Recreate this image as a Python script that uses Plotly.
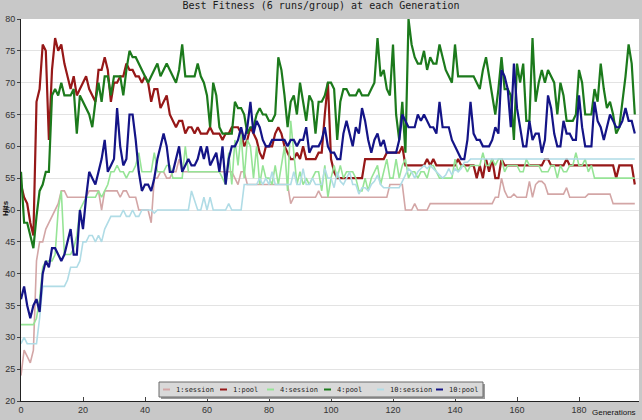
import plotly.graph_objects as go

# ---------------- data ----------------
series_names = ["1:session", "1:pool", "4:session", "4:pool", "10:session", "10:pool"]

session1 = [
    24, 28, 27, 26, 28, 42, 45, 45, 47, 48,
    49, 50, 51, 53, 53, 52, 52, 52, 52, 52,
    52, 52, 53, 53, 53, 53, 50, 53, 53, 53,
    53, 53, 52, 53, 53, 52, 52, 52, 50, 50,
    50, 50, 48, 55, 55, 56, 56, 55, 55, 56,
    56, 58, 56, 56, 56, 56, 56, 56, 56, 56,
    56, 56, 56, 56, 56, 56, 56, 56, 56, 55,
    54, 56, 56, 54, 54, 54, 54, 54, 54, 54,
    54, 54, 54, 54, 54, 54, 54, 51, 52, 52,
    52, 52, 52, 52, 52, 52, 53, 52, 52, 52,
    52, 52, 52, 52, 52, 52, 52, 52, 52, 52,
    52, 52, 52, 52, 52, 52, 52, 52, 52, 54,
    54, 54, 54, 54, 50, 50, 50, 51, 50, 50,
    50, 50, 51, 51, 51, 51, 51, 51, 51, 51,
    51, 51, 51, 51, 51, 51, 51, 51, 51, 51,
    51, 51, 51, 52, 52, 55, 53, 52, 52, 52.5,
    52, 52, 52, 52, 54.5, 52, 54, 54.5, 54.5, 54,
    52.5, 52.5, 52.5, 52.5, 52.5, 52.5, 53.5, 52, 52, 52,
    52, 52, 52, 52.5, 52.5, 52.5, 52.5, 52.5, 52.5, 52.5,
    52.5, 51, 51, 51, 51, 51, 51, 51, 51,
]

pool1 = [
    54, 52, 51, 48, 46, 67, 69, 76, 75, 61,
    72, 77, 75, 76, 73, 71, 69, 71, 68, 69,
    70, 71, 69, 68, 67, 72, 72, 74, 72, 67,
    70, 70, 71, 71, 73, 72, 72, 71, 71, 70,
    71, 70, 67, 69, 69, 66, 67, 68, 65, 64,
    63, 64, 64, 62, 63, 63, 62, 63, 62, 62,
    62, 63, 62, 62, 62, 61, 62, 62, 63, 63,
    63, 62, 60, 61, 63, 62, 61, 59, 58, 60,
    60, 60, 62, 63, 62, 60, 59, 58, 58, 59,
    58, 60, 58, 58, 58, 58, 59, 59, 65, 70,
    58, 56, 55, 55, 55, 55, 55, 55, 55, 55,
    55, 58, 58, 58, 58, 58, 58, 58, 59, 59,
    59, 59, 59, 60, 57, 57, 57, 57, 57, 57,
    57, 58, 57, 58, 57, 57, 57, 57, 57, 57,
    57, 58, 57, 57, 57, 57, 57, 55, 57, 55,
    58, 56, 58, 55, 55, 58, 57, 57, 57, 57,
    57, 57, 57, 57, 57, 57, 57, 57, 57, 58,
    58, 57, 57, 57, 57, 57, 58, 57, 57, 57,
    57, 57, 57, 57, 57, 57, 57, 57, 57, 57,
    57, 57, 55, 57, 57, 57, 57, 57, 54,
]

session4 = [
    32, 32, 32, 32, 32, 33, 36, 41, 42, 42,
    42, 43, 50, 53, 43, 43, 43, 44, 46, 50,
    51, 52, 52, 52, 52, 53, 52, 53, 54, 56,
    56, 57, 56, 56, 55, 56, 56, 57, 59, 56,
    56, 56, 56, 59, 56, 56, 56, 57, 57, 55,
    55, 55, 55, 60, 56, 56, 56, 56, 56, 56,
    56, 56, 56, 56, 56, 55, 54, 59, 54, 61,
    57, 62, 55, 61, 60, 55, 60, 54, 57, 55,
    55, 54, 57, 54, 57, 60, 53, 64, 59, 54,
    56, 54, 55, 54, 55, 56, 56, 53, 57, 52,
    55, 57, 55, 57, 55, 56, 56, 56, 55, 53,
    53, 55, 53, 55, 56, 57, 54, 56, 58, 55,
    55, 58, 55, 57, 58, 55, 56, 56, 55, 56,
    56, 55, 57, 57, 56, 55, 55, 55, 55, 55,
    58, 56, 57, 57, 56, 57, 57, 57, 57, 59,
    57, 57, 58, 57, 58, 58, 56, 57, 57, 57,
    57, 56, 56, 58, 57, 57, 57, 57, 56, 56,
    56, 57, 57, 55, 57, 56, 56, 57, 57, 59,
    57, 57, 58, 56, 57, 55, 55, 55, 55, 55,
    55, 55, 55, 55, 55, 55, 55, 55, 55,
]

pool4 = [
    56, 48, 48, 46, 44, 49, 53, 54, 56, 56,
    68, 69, 68, 70, 68, 68, 68, 69, 62, 68,
    67, 66, 65, 63, 67, 70, 67, 71, 71, 68,
    71, 71, 71, 68, 72, 75, 74, 74, 73, 72,
    71, 70, 71, 72, 73, 71, 72, 73, 72, 71,
    70, 72, 76, 71, 71, 71, 71, 73, 71, 70,
    68, 63, 70, 68, 63, 62, 62, 62, 62, 67,
    66, 66, 65, 62, 63, 63, 65, 66, 65, 65,
    64, 64, 65, 74, 72, 68, 63, 67, 68, 65,
    70, 67, 64, 68, 67, 62, 67, 67, 68, 70,
    70, 69, 61, 67, 69, 69, 68, 68, 68, 69,
    68, 68, 68, 69, 70, 77, 71, 72, 69, 68,
    76, 65, 61, 67, 59, 80, 76, 74, 73, 73,
    75, 72, 74, 73, 73, 76, 74, 72, 71, 70,
    76, 71, 71, 71, 71, 71, 71, 70, 69, 72,
    74, 71, 68, 65, 69, 74, 69, 69, 68, 61,
    73, 70, 73, 64, 64, 77, 67, 70, 72, 70,
    72, 71, 70, 65, 70, 68, 64, 64, 64, 65,
    72, 70, 65, 65, 65, 69, 67, 73, 69, 66,
    67, 65, 62, 63, 67, 71, 76, 73, 65,
]

session10 = [
    29, 30, 29, 29, 29, 29, 33, 38, 38, 38,
    38, 38, 38, 38, 38, 39, 41, 41, 41, 42,
    45, 45, 46, 46, 45, 46, 45, 47, 48, 49,
    49, 49, 49, 50, 49, 49, 50, 49, 49, 50,
    50, 50, 50, 49.5, 50, 50, 50, 50, 50, 50,
    50, 50, 50, 50, 50, 53, 51.5, 50, 50, 52,
    50, 52, 50, 50, 50, 50, 50, 51, 50, 50,
    50, 50, 54, 54, 54, 54, 54, 55, 54, 55,
    54, 56, 54, 54, 54, 54, 54, 54, 56, 54,
    54, 56.5, 54, 54, 55, 54, 54, 54, 56.5, 55,
    55, 53.5, 56, 54.5, 54, 55, 56, 54, 54, 52.5,
    53.5, 53.5, 53, 54, 54.5, 55.5, 54, 53.5, 53.5, 53.5,
    53.5, 53.5, 53.5, 54.5, 55.5, 56.5, 56, 55, 56, 56.5,
    57, 56.5, 57, 56.5, 56, 55.5, 55, 55.5, 56.5, 55.5,
    56.5, 56, 56.5, 57.5, 57.5, 58, 58, 58, 58, 58,
    58, 58, 58, 58, 58, 58, 58, 58, 58, 58,
    58, 58, 58, 58, 58, 58, 58, 58, 58, 58,
    58, 58, 58, 58, 58, 58, 58, 58, 58, 58,
    58, 58, 58, 58, 58, 58, 58, 58, 58, 58,
    58, 58, 58, 58, 58, 58, 58, 58, 58,
]

pool10 = [
    36, 38, 35, 33, 35, 36, 34, 40, 42, 41,
    44, 44, 43, 42, 43, 45, 47, 43, 43, 50,
    47, 52, 56, 55, 54, 56, 58, 61, 56, 57,
    58, 66, 60, 57, 58, 65, 65, 61, 56, 53,
    54, 54, 53, 55, 58, 60, 62, 60, 56, 56,
    58, 60, 56, 57, 58, 57, 57, 58, 60, 58,
    60, 57, 58, 59, 56, 60, 54, 58, 60, 60,
    61, 63, 61, 63, 67, 62, 64, 63, 61, 60,
    60, 61, 61, 61, 61, 61, 60, 61, 61, 60,
    61, 61, 63, 59, 60, 60, 60, 61, 63, 60,
    59, 59, 58, 58, 62, 64, 62, 60, 63, 62,
    66, 64, 61, 59, 61, 62, 60, 61, 59, 59,
    59, 59, 61, 65, 64, 63, 63, 63, 65, 64,
    65, 64, 63, 63, 62, 67, 63, 63, 63, 61,
    60, 59, 58, 58, 61, 67, 62, 61, 61, 60,
    60, 60, 61, 63, 62, 72, 71, 69, 63, 73,
    66, 63, 60, 60, 64, 61, 62, 62, 59, 61,
    68, 66, 62, 60, 60, 64, 62, 62, 61, 61,
    68, 63, 60, 60, 60, 67, 64, 63, 61, 63,
    65, 64, 63, 63, 64, 66, 64, 64, 62,
]

generations = list(range(len(pool1)))
x_tick_values = [0, 20, 40, 60, 80, 100, 120, 140, 160, 180]
y_tick_values = [20, 25, 30, 35, 40, 45, 50, 55, 60, 65, 70, 75, 80]

# ---------------- styling ----------------
colors = ["#d3a6a6", "#961818", "#96e496", "#1c7a1c", "#b0dce6", "#141487"]
widths = [1.6, 2.2, 1.6, 2.2, 1.6, 2.2]
all_series = [session1, pool1, session4, pool4, session10, pool10]

# plot-area geometry in page pixels
PL, PR, PT, PB = 21, 639, 19, 401
W, H = 642, 420


def px_x(p):
    return (p - PL) / (PR - PL)


def px_y(p):
    return (PB - p) / (PB - PT)


fig = go.Figure()
for name, vals, col, w in zip(series_names, all_series, colors, widths):
    fig.add_trace(go.Scatter(
        x=generations, y=vals, mode="lines", name=name,
        line=dict(color=col, width=w), hoverinfo="skip", showlegend=False,
    ))

mono = "DejaVu Sans Mono"
sans = "Liberation Sans"

fig.update_layout(
    width=W, height=H,
    margin=dict(l=PL, r=W - PR, t=PT, b=H - PB),
    paper_bgcolor="#c8c8c8",
    plot_bgcolor="#ffffff",
    title=dict(text="Best Fitness (6 runs/group) at each Generation",
               x=0.5, xanchor="center", y=0.988, yanchor="middle",
               font=dict(family=mono, size=10, color="#1a1a1a")),
    showlegend=False,
    font=dict(family=sans, size=9, color="#333333"),
)

fig.update_xaxes(
    range=[0, 199.35], tickvals=x_tick_values, ticks="inside", ticklen=4,
    tickcolor="#444444", showgrid=False, zeroline=False,
    showline=True, linecolor="#222222", linewidth=1,
    tickfont=dict(family=sans, size=9, color="#333333"),
)
fig.update_yaxes(
    range=[20, 80], tickvals=y_tick_values, ticks="outside", ticklen=3,
    tickcolor="#444444", showgrid=True, gridcolor="#e3e3e3", gridwidth=1,
    zeroline=False, showline=True, linecolor="#222222", linewidth=1,
    tickfont=dict(family=sans, size=9, color="#333333"),
)

# ---------------- legend box (compact, horizontal) ----------------
box_x0, box_x1, box_y0, box_y1 = 159, 483, 382, 397
marker_x = [163, 220, 267, 324, 377, 436]
legend_mid_y = 389.5
fig.add_shape(type="rect", xref="paper", yref="paper", layer="above",
              x0=px_x(box_x0 + 2), x1=px_x(box_x1 + 2),
              y0=px_y(box_y1 + 2), y1=px_y(box_y0 + 2),
              fillcolor="#9c9c9c", line=dict(width=0))
fig.add_shape(type="rect", xref="paper", yref="paper", layer="above",
              x0=px_x(box_x0), x1=px_x(box_x1),
              y0=px_y(box_y1), y1=px_y(box_y0),
              fillcolor="#d9d9d9", line=dict(color="#6a6a6a", width=1))
for name, col, mx in zip(series_names, colors, marker_x):
    fig.add_shape(type="line", xref="paper", yref="paper", layer="above",
                  x0=px_x(mx), x1=px_x(mx + 7),
                  y0=px_y(legend_mid_y), y1=px_y(legend_mid_y),
                  line=dict(color=col, width=2))
    fig.add_annotation(text=name, xref="paper", yref="paper",
                       x=px_x(mx + 11), y=px_y(legend_mid_y),
                       xanchor="left", yanchor="middle", showarrow=False,
                       font=dict(family=mono, size=7, color="#222222"))

fig.add_annotation(text="<b>Hits</b>", xref="paper", yref="paper",
                   x=px_x(5), y=px_y(208), textangle=-90, showarrow=False,
                   xanchor="center", yanchor="middle",
                   font=dict(family=sans, size=8, color="#111111"))
fig.add_annotation(text="Generations", xref="paper", yref="paper",
                   x=px_x(614), y=px_y(413), showarrow=False,
                   xanchor="center", yanchor="middle",
                   font=dict(family=sans, size=8, color="#111111"))

fig.write_html("out.html")
